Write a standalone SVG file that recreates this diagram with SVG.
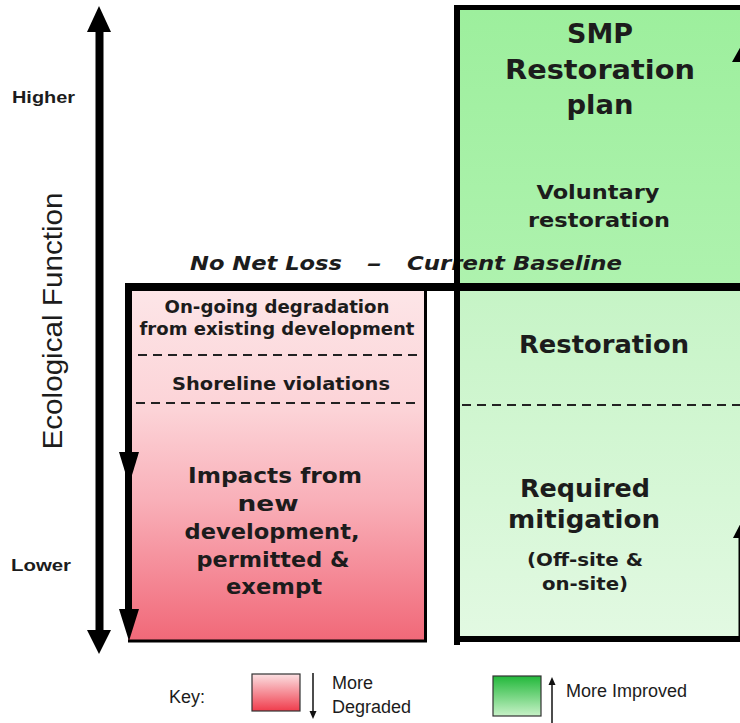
<svg xmlns="http://www.w3.org/2000/svg" width="740" height="723" viewBox="0 0 740 723">
<style>
.b{font-family:"DejaVu Sans",Verdana,sans-serif;font-weight:bold;fill:#1c1c1c;text-anchor:middle}
.bi{font-family:"DejaVu Sans",Verdana,sans-serif;font-weight:bold;font-style:italic;fill:#1c1c1c}
.a{font-family:"Liberation Sans",Arial,sans-serif;fill:#1c1c1c}
.dash{stroke:#222;stroke-width:2;stroke-dasharray:9 6;fill:none}
.blk{fill:#000}
</style>
<defs>
<linearGradient id="gPink" x1="0" y1="0" x2="0" y2="1">
<stop offset="0" stop-color="#fde6e8"/>
<stop offset="0.35" stop-color="#fcd3d7"/>
<stop offset="0.6" stop-color="#f9b0b9"/>
<stop offset="1" stop-color="#f16878"/>
</linearGradient>
<linearGradient id="gGreenUp" x1="0" y1="0" x2="0" y2="1">
<stop offset="0" stop-color="#9def9d"/>
<stop offset="1" stop-color="#aef2ae"/>
</linearGradient>
<linearGradient id="gGreenLow" x1="0" y1="0" x2="0" y2="1">
<stop offset="0" stop-color="#c6f4c6"/>
<stop offset="1" stop-color="#e2f9e2"/>
</linearGradient>
<linearGradient id="kPink" x1="0" y1="0" x2="0" y2="1">
<stop offset="0" stop-color="#fbe0e2"/>
<stop offset="1" stop-color="#f03c4c"/>
</linearGradient>
<linearGradient id="kGreen" x1="0" y1="0" x2="0" y2="1">
<stop offset="0" stop-color="#22b83a"/>
<stop offset="1" stop-color="#c8f2c8"/>
</linearGradient>
</defs>
<rect width="740" height="723" fill="#ffffff"/>

<g id="axis-labels">
<text class="a" x="12" y="103" font-size="16" font-weight="bold" textLength="63" lengthAdjust="spacingAndGlyphs">Higher</text>
<text class="a" x="11" y="571" font-size="16" font-weight="bold" textLength="60" lengthAdjust="spacingAndGlyphs">Lower</text>
<text class="a" font-size="28" text-anchor="middle" transform="translate(62,321) rotate(-90)" textLength="257" lengthAdjust="spacingAndGlyphs">Ecological Function</text>
</g>

<g id="green-upper">
<rect x="460" y="10" width="280" height="274" fill="url(#gGreenUp)"/>
<text class="b" x="600" y="43" font-size="26" textLength="66" lengthAdjust="spacingAndGlyphs">SMP</text>
<text class="b" x="600" y="79" font-size="26" textLength="190" lengthAdjust="spacingAndGlyphs">Restoration</text>
<text class="b" x="600" y="114" font-size="26" textLength="67" lengthAdjust="spacingAndGlyphs">plan</text>
<text class="b" x="598" y="199" font-size="20" textLength="123" lengthAdjust="spacingAndGlyphs">Voluntary</text>
<text class="b" x="599" y="227" font-size="20" textLength="142" lengthAdjust="spacingAndGlyphs">restoration</text>
</g>

<g id="green-lower">
<rect x="460" y="291" width="280" height="345" fill="url(#gGreenLow)"/>
<line class="dash" x1="462" y1="405" x2="740" y2="405"/>
<text class="b" x="604" y="353" font-size="25" textLength="170" lengthAdjust="spacingAndGlyphs">Restoration</text>
<text class="b" x="585" y="497" font-size="25" textLength="130" lengthAdjust="spacingAndGlyphs">Required</text>
<text class="b" x="584" y="528" font-size="25" textLength="152" lengthAdjust="spacingAndGlyphs">mitigation</text>
<text class="b" x="585" y="566" font-size="17" textLength="116" lengthAdjust="spacingAndGlyphs">(Off-site &amp;</text>
<text class="b" x="585" y="590" font-size="17" textLength="86" lengthAdjust="spacingAndGlyphs">on-site)</text>
</g>

<g id="pink-box">
<rect x="128" y="287" width="298" height="354" fill="url(#gPink)"/>
<line class="dash" x1="138" y1="355" x2="418" y2="355"/>
<line class="dash" x1="136" y1="403" x2="418" y2="403"/>
<text class="b" x="277" y="313" font-size="17" textLength="225" lengthAdjust="spacingAndGlyphs">On-going degradation</text>
<text class="b" x="277" y="335" font-size="17" textLength="275" lengthAdjust="spacingAndGlyphs">from existing development</text>
<text class="b" x="281" y="390" font-size="18" textLength="218" lengthAdjust="spacingAndGlyphs">Shoreline violations</text>
<text class="b" x="275" y="483" font-size="21" textLength="174" lengthAdjust="spacingAndGlyphs">Impacts from</text>
<text class="b" x="268" y="511" font-size="21" textLength="61" lengthAdjust="spacingAndGlyphs">new</text>
<text class="b" x="272" y="539" font-size="21" textLength="175" lengthAdjust="spacingAndGlyphs">development,</text>
<text class="b" x="273" y="567" font-size="21" textLength="153" lengthAdjust="spacingAndGlyphs">permitted &amp;</text>
<text class="b" x="274" y="594" font-size="21" textLength="96" lengthAdjust="spacingAndGlyphs">exempt</text>
</g>

<g id="baseline-label">
<text class="bi" x="190" y="270" font-size="20" textLength="152" lengthAdjust="spacingAndGlyphs">No Net Loss</text>
<text class="bi" x="367" y="270" font-size="20" textLength="15" lengthAdjust="spacingAndGlyphs">–</text>
<text class="bi" x="407" y="270" font-size="20" textLength="215" lengthAdjust="spacingAndGlyphs">Current Baseline</text>
</g>

<g id="connectors">
<rect class="blk" x="95.5" y="28" width="8" height="606"/>
<polygon class="blk" points="99,6 87,32 111,32"/>
<polygon class="blk" points="87,630 111,630 99,654"/>
<rect class="blk" x="125" y="283" width="7" height="330"/>
<polygon class="blk" points="119,452 139,452 129,485"/>
<polygon class="blk" points="119,609 139,609 129,641"/>
<rect class="blk" x="128" y="639.5" width="299" height="3"/>
<rect class="blk" x="424" y="287" width="3" height="355"/>
<rect class="blk" x="125" y="283" width="615" height="8"/>
<rect class="blk" x="454" y="5" width="286" height="5"/>
<rect class="blk" x="454" y="5" width="6" height="640"/>
<rect class="blk" x="454" y="636" width="286" height="6"/>
<polygon class="blk" points="746,37 732,62 760,62"/>
<polygon class="blk" points="746,513 733,538 760,538"/>
<rect class="blk" x="738.5" y="537" width="1.5" height="100"/>
</g>

<g id="key">
<text class="a" x="169" y="703" font-size="18">Key:</text>
<rect x="252" y="674" width="48" height="37" fill="url(#kPink)" stroke="#333" stroke-width="1.2"/>
<line x1="313" y1="673" x2="313" y2="712" stroke="#111" stroke-width="1.5"/>
<polygon points="309.5,711 316.5,711 313,719" fill="#111"/>
<text class="a" x="332" y="689" font-size="18">More</text>
<text class="a" x="332" y="713" font-size="18">Degraded</text>
<rect x="493" y="676" width="48" height="40" fill="url(#kGreen)" stroke="#333" stroke-width="1.2"/>
<line x1="552" y1="684" x2="552" y2="723" stroke="#111" stroke-width="1.5"/>
<polygon points="548.5,685 555.5,685 552,677" fill="#111"/>
<text class="a" x="566" y="697" font-size="18">More Improved</text>
</g>
</svg>
